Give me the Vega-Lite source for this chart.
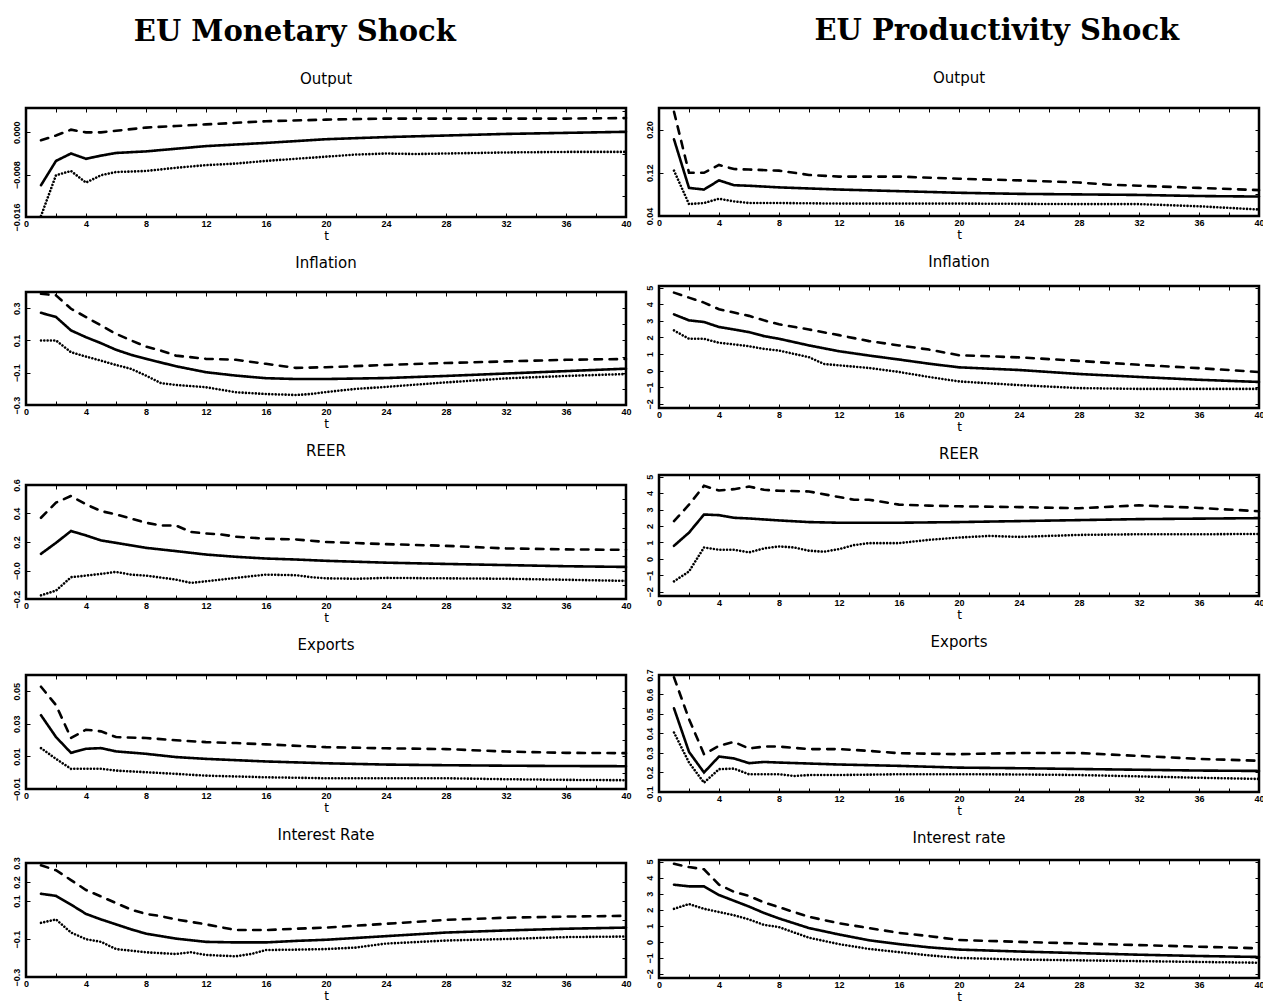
{
"$schema": "https://vega.github.io/schema/vega-lite/v6.json",
"background": "white",
"padding": {"left": 11, "top": 17, "right": 2, "bottom": 0},
"config": {
  "view": {"stroke": "black", "strokeWidth": 2.5},
  "axis": {"domain": false, "grid": false, "tickColor": "black", "tickSize": -4, "tickWidth": 1, "labelColor": "black", "labelFont": "Liberation Sans", "labelFontSize": 9, "labelFontWeight": "bold", "labelFlush": false, "labelOverlap": false, "labelBound": false, "titleFont": "DejaVu Sans", "titleFontSize": 12, "titleFontWeight": "normal", "titleColor": "black"},
  "title": {"font": "DejaVu Sans", "fontSize": 15, "fontWeight": "normal", "color": "black", "anchor": "middle"},
  "line": {"color": "black", "strokeWidth": 2.6, "strokeCap": "round", "clip": true}
},
"hconcat": [
{
  "title": {"text": "EU Monetary Shock", "font": "DejaVu Serif", "fontSize": 29, "fontWeight": "bold", "offset": 23, "dx": -27},
  "spacing": 11,
  "vconcat": [
  {
    "title": {"text": "Output", "offset": 21},
    "width": 600, "height": 109,
    "data": {"values": [
      {"t":1,"s":"hi","v":-0.0015},{"t":2,"s":"hi","v":-0.0006},{"t":3,"s":"hi","v":0.0005},{"t":4,"s":"hi","v":0.0},{"t":5,"s":"hi","v":0.0},{"t":6,"s":"hi","v":0.0003},{"t":8,"s":"hi","v":0.0009},{"t":10,"s":"hi","v":0.0012},{"t":12,"s":"hi","v":0.0015},{"t":14,"s":"hi","v":0.0018},{"t":16,"s":"hi","v":0.0021},{"t":20,"s":"hi","v":0.0024},{"t":24,"s":"hi","v":0.0026},{"t":28,"s":"hi","v":0.0026},{"t":32,"s":"hi","v":0.0026},{"t":36,"s":"hi","v":0.0026},{"t":40,"s":"hi","v":0.0027},
      {"t":1,"s":"med","v":-0.0100},{"t":2,"s":"med","v":-0.0054},{"t":3,"s":"med","v":-0.0040},{"t":4,"s":"med","v":-0.0050},{"t":5,"s":"med","v":-0.0044},{"t":6,"s":"med","v":-0.0039},{"t":8,"s":"med","v":-0.0036},{"t":10,"s":"med","v":-0.0031},{"t":12,"s":"med","v":-0.0026},{"t":14,"s":"med","v":-0.0023},{"t":16,"s":"med","v":-0.0020},{"t":20,"s":"med","v":-0.0013},{"t":24,"s":"med","v":-0.0009},{"t":28,"s":"med","v":-0.0006},{"t":32,"s":"med","v":-0.0003},{"t":36,"s":"med","v":-0.0001},{"t":40,"s":"med","v":0.0001},
      {"t":1,"s":"lo","v":-0.0158},{"t":2,"s":"lo","v":-0.0081},{"t":3,"s":"lo","v":-0.0073},{"t":4,"s":"lo","v":-0.0095},{"t":5,"s":"lo","v":-0.0081},{"t":6,"s":"lo","v":-0.0075},{"t":8,"s":"lo","v":-0.0073},{"t":10,"s":"lo","v":-0.0067},{"t":12,"s":"lo","v":-0.0062},{"t":14,"s":"lo","v":-0.0059},{"t":16,"s":"lo","v":-0.0054},{"t":20,"s":"lo","v":-0.0046},{"t":22,"s":"lo","v":-0.0042},{"t":24,"s":"lo","v":-0.0040},{"t":26,"s":"lo","v":-0.0041},{"t":28,"s":"lo","v":-0.0040},{"t":32,"s":"lo","v":-0.0038},{"t":36,"s":"lo","v":-0.0037},{"t":40,"s":"lo","v":-0.0037}
    ]},
    "layer": [
      {"mark": {"type": "line"},
       "encoding": {
         "x": {"field": "t", "type": "quantitative", "scale": {"domain": [0, 40], "nice": false}, "axis": {"values": [0,2,4,6,8,10,12,14,16,18,20,22,24,26,28,30,32,34,36,38,40], "labelExpr": "datum.value % 4 == 0 ? datum.label : ''", "title": "t", "labelPadding": 6, "titlePadding": 2}},
         "y": {"field": "v", "type": "quantitative", "scale": {"domain": [-0.016, 0.0046], "nice": false, "zero": false}, "axis": {"values": [-0.016, -0.008, 0], "format": ".3f", "title": null, "labelAngle": 270, "labelAlign": "center", "labelBaseline": "bottom", "labelPadding": 8.5}},
         "strokeDash": {"field": "s", "type": "nominal", "scale": {"domain": ["hi", "med", "lo"], "range": [[7.5, 7.5], [1, 0], [0.01, 3.3]]}, "legend": null}
       }},
      {"mark": {"type": "point", "opacity": 0},
       "encoding": {
         "x": {"field": "t", "type": "quantitative", "scale": {"domain": [0, 40], "nice": false}, "axis": {"orient": "top", "values": [0,2,4,6,8,10,12,14,16,18,20,22,24,26,28,30,32,34,36,38,40], "labels": false, "title": null}},
         "y": {"field": "v", "type": "quantitative", "scale": {"domain": [-0.016, 0.0046], "nice": false, "zero": false}, "axis": {"orient": "right", "values": [-0.016, -0.012, -0.008, -0.004, 0, 0.004], "labels": false, "title": null}}
       }}
    ],
    "resolve": {"axis": {"x": "independent", "y": "independent"}}
  },
  {
    "title": {"text": "Inflation", "offset": 18},
    "width": 600, "height": 113,
    "data": {"values": [
      {"t":1,"s":"hi","v":0.389},{"t":2,"s":"hi","v":0.379},{"t":3,"s":"hi","v":0.296},{"t":4,"s":"hi","v":0.245},{"t":5,"s":"hi","v":0.193},{"t":6,"s":"hi","v":0.141},{"t":7,"s":"hi","v":0.10},{"t":8,"s":"hi","v":0.062},{"t":9,"s":"hi","v":0.037},{"t":10,"s":"hi","v":0.006},{"t":12,"s":"hi","v":-0.014},{"t":14,"s":"hi","v":-0.02},{"t":16,"s":"hi","v":-0.045},{"t":18,"s":"hi","v":-0.07},{"t":20,"s":"hi","v":-0.066},{"t":24,"s":"hi","v":-0.052},{"t":28,"s":"hi","v":-0.04},{"t":32,"s":"hi","v":-0.03},{"t":36,"s":"hi","v":-0.02},{"t":40,"s":"hi","v":-0.015},
      {"t":1,"s":"med","v":0.271},{"t":2,"s":"med","v":0.245},{"t":3,"s":"med","v":0.162},{"t":4,"s":"med","v":0.12},{"t":5,"s":"med","v":0.083},{"t":6,"s":"med","v":0.042},{"t":7,"s":"med","v":0.011},{"t":8,"s":"med","v":-0.014},{"t":10,"s":"med","v":-0.06},{"t":12,"s":"med","v":-0.097},{"t":14,"s":"med","v":-0.118},{"t":16,"s":"med","v":-0.134},{"t":18,"s":"med","v":-0.139},{"t":20,"s":"med","v":-0.139},{"t":24,"s":"med","v":-0.133},{"t":28,"s":"med","v":-0.12},{"t":32,"s":"med","v":-0.105},{"t":36,"s":"med","v":-0.09},{"t":40,"s":"med","v":-0.075},
      {"t":1,"s":"lo","v":0.1},{"t":2,"s":"lo","v":0.1},{"t":3,"s":"lo","v":0.027},{"t":4,"s":"lo","v":0.0},{"t":5,"s":"lo","v":-0.025},{"t":6,"s":"lo","v":-0.052},{"t":7,"s":"lo","v":-0.076},{"t":8,"s":"lo","v":-0.118},{"t":9,"s":"lo","v":-0.165},{"t":10,"s":"lo","v":-0.176},{"t":12,"s":"lo","v":-0.19},{"t":14,"s":"lo","v":-0.221},{"t":16,"s":"lo","v":-0.232},{"t":18,"s":"lo","v":-0.238},{"t":19,"s":"lo","v":-0.232},{"t":20,"s":"lo","v":-0.22},{"t":22,"s":"lo","v":-0.2},{"t":24,"s":"lo","v":-0.188},{"t":28,"s":"lo","v":-0.16},{"t":32,"s":"lo","v":-0.135},{"t":36,"s":"lo","v":-0.12},{"t":40,"s":"lo","v":-0.108}
    ]},
    "layer": [
      {"mark": {"type": "line"},
       "encoding": {
         "x": {"field": "t", "type": "quantitative", "scale": {"domain": [0, 40], "nice": false}, "axis": {"values": [0,2,4,6,8,10,12,14,16,18,20,22,24,26,28,30,32,34,36,38,40], "labelExpr": "datum.value % 4 == 0 ? datum.label : ''", "title": "t", "labelPadding": 6, "titlePadding": 2}},
         "y": {"field": "v", "type": "quantitative", "scale": {"domain": [-0.3, 0.4], "nice": false, "zero": false}, "axis": {"values": [-0.3, -0.1, 0.1, 0.3], "format": ".1f", "title": null, "labelAngle": 270, "labelAlign": "center", "labelBaseline": "bottom", "labelPadding": 8.5}},
         "strokeDash": {"field": "s", "type": "nominal", "scale": {"domain": ["hi", "med", "lo"], "range": [[7.5, 7.5], [1, 0], [0.01, 3.3]]}, "legend": null}
       }},
      {"mark": {"type": "point", "opacity": 0},
       "encoding": {
         "x": {"field": "t", "type": "quantitative", "scale": {"domain": [0, 40], "nice": false}, "axis": {"orient": "top", "values": [0,2,4,6,8,10,12,14,16,18,20,22,24,26,28,30,32,34,36,38,40], "labels": false, "title": null}},
         "y": {"field": "v", "type": "quantitative", "scale": {"domain": [-0.3, 0.4], "nice": false, "zero": false}, "axis": {"orient": "right", "values": [-0.3, -0.2, -0.1, 0, 0.1, 0.2, 0.3, 0.4], "labels": false, "title": null}}
       }}
    ],
    "resolve": {"axis": {"x": "independent", "y": "independent"}}
  },
  {
    "title": {"text": "REER", "offset": 20},
    "width": 600, "height": 114,
    "data": {"values": [
      {"t":1,"s":"hi","v":0.37},{"t":2,"s":"hi","v":0.476},{"t":3,"s":"hi","v":0.523},{"t":4,"s":"hi","v":0.464},{"t":5,"s":"hi","v":0.417},{"t":6,"s":"hi","v":0.394},{"t":8,"s":"hi","v":0.335},{"t":9,"s":"hi","v":0.316},{"t":10,"s":"hi","v":0.316},{"t":11,"s":"hi","v":0.27},{"t":12,"s":"hi","v":0.26},{"t":13,"s":"hi","v":0.253},{"t":14,"s":"hi","v":0.237},{"t":16,"s":"hi","v":0.223},{"t":18,"s":"hi","v":0.218},{"t":20,"s":"hi","v":0.2},{"t":24,"s":"hi","v":0.185},{"t":28,"s":"hi","v":0.173},{"t":32,"s":"hi","v":0.155},{"t":36,"s":"hi","v":0.148},{"t":40,"s":"hi","v":0.145},
      {"t":1,"s":"med","v":0.117},{"t":2,"s":"med","v":0.194},{"t":3,"s":"med","v":0.277},{"t":4,"s":"med","v":0.246},{"t":5,"s":"med","v":0.211},{"t":6,"s":"med","v":0.194},{"t":8,"s":"med","v":0.159},{"t":10,"s":"med","v":0.136},{"t":12,"s":"med","v":0.112},{"t":14,"s":"med","v":0.096},{"t":16,"s":"med","v":0.084},{"t":18,"s":"med","v":0.077},{"t":20,"s":"med","v":0.068},{"t":24,"s":"med","v":0.055},{"t":28,"s":"med","v":0.046},{"t":32,"s":"med","v":0.038},{"t":36,"s":"med","v":0.03},{"t":40,"s":"med","v":0.025},
      {"t":1,"s":"lo","v":-0.174},{"t":2,"s":"lo","v":-0.141},{"t":3,"s":"lo","v":-0.047},{"t":4,"s":"lo","v":-0.036},{"t":5,"s":"lo","v":-0.024},{"t":6,"s":"lo","v":-0.01},{"t":7,"s":"lo","v":-0.029},{"t":8,"s":"lo","v":-0.036},{"t":10,"s":"lo","v":-0.064},{"t":11,"s":"lo","v":-0.087},{"t":12,"s":"lo","v":-0.076},{"t":14,"s":"lo","v":-0.052},{"t":16,"s":"lo","v":-0.029},{"t":18,"s":"lo","v":-0.033},{"t":19,"s":"lo","v":-0.047},{"t":20,"s":"lo","v":-0.055},{"t":22,"s":"lo","v":-0.058},{"t":24,"s":"lo","v":-0.052},{"t":28,"s":"lo","v":-0.055},{"t":32,"s":"lo","v":-0.058},{"t":36,"s":"lo","v":-0.065},{"t":40,"s":"lo","v":-0.073}
    ]},
    "layer": [
      {"mark": {"type": "line"},
       "encoding": {
         "x": {"field": "t", "type": "quantitative", "scale": {"domain": [0, 40], "nice": false}, "axis": {"values": [0,2,4,6,8,10,12,14,16,18,20,22,24,26,28,30,32,34,36,38,40], "labelExpr": "datum.value % 4 == 0 ? datum.label : ''", "title": "t", "labelPadding": 6, "titlePadding": 2}},
         "y": {"field": "v", "type": "quantitative", "scale": {"domain": [-0.2, 0.6], "nice": false, "zero": false}, "axis": {"values": [-0.2, 0, 0.2, 0.4, 0.6], "labelExpr": "datum.value == 0 ? '\u22120.0' : format(datum.value, '.1f')", "title": null, "labelAngle": 270, "labelAlign": "center", "labelBaseline": "bottom", "labelPadding": 8.5}},
         "strokeDash": {"field": "s", "type": "nominal", "scale": {"domain": ["hi", "med", "lo"], "range": [[7.5, 7.5], [1, 0], [0.01, 3.3]]}, "legend": null}
       }},
      {"mark": {"type": "point", "opacity": 0},
       "encoding": {
         "x": {"field": "t", "type": "quantitative", "scale": {"domain": [0, 40], "nice": false}, "axis": {"orient": "top", "values": [0,2,4,6,8,10,12,14,16,18,20,22,24,26,28,30,32,34,36,38,40], "labels": false, "title": null}},
         "y": {"field": "v", "type": "quantitative", "scale": {"domain": [-0.2, 0.6], "nice": false, "zero": false}, "axis": {"orient": "right", "values": [-0.2, -0.1, 0, 0.1, 0.2, 0.3, 0.4, 0.5, 0.6], "labels": false, "title": null}}
       }}
    ],
    "resolve": {"axis": {"x": "independent", "y": "independent"}}
  },
  {
    "title": {"text": "Exports", "offset": 22},
    "width": 600, "height": 114,
    "data": {"values": [
      {"t":1,"s":"hi","v":0.0528},{"t":2,"s":"hi","v":0.0415},{"t":3,"s":"hi","v":0.0213},{"t":4,"s":"hi","v":0.0264},{"t":5,"s":"hi","v":0.0254},{"t":6,"s":"hi","v":0.0219},{"t":8,"s":"hi","v":0.0213},{"t":10,"s":"hi","v":0.0199},{"t":12,"s":"hi","v":0.0188},{"t":14,"s":"hi","v":0.0182},{"t":16,"s":"hi","v":0.0174},{"t":20,"s":"hi","v":0.0157},{"t":24,"s":"hi","v":0.015},{"t":28,"s":"hi","v":0.0145},{"t":32,"s":"hi","v":0.013},{"t":36,"s":"hi","v":0.0122},{"t":40,"s":"hi","v":0.012},
      {"t":1,"s":"med","v":0.0353},{"t":2,"s":"med","v":0.0219},{"t":3,"s":"med","v":0.0122},{"t":4,"s":"med","v":0.0147},{"t":5,"s":"med","v":0.0151},{"t":6,"s":"med","v":0.0131},{"t":8,"s":"med","v":0.0116},{"t":10,"s":"med","v":0.0096},{"t":12,"s":"med","v":0.0085},{"t":16,"s":"med","v":0.0069},{"t":20,"s":"med","v":0.0058},{"t":24,"s":"med","v":0.005},{"t":28,"s":"med","v":0.0046},{"t":32,"s":"med","v":0.0043},{"t":36,"s":"med","v":0.0041},{"t":40,"s":"med","v":0.004},
      {"t":1,"s":"lo","v":0.0151},{"t":2,"s":"lo","v":0.0085},{"t":3,"s":"lo","v":0.0024},{"t":4,"s":"lo","v":0.0024},{"t":5,"s":"lo","v":0.0024},{"t":6,"s":"lo","v":0.0013},{"t":8,"s":"lo","v":0.0003},{"t":10,"s":"lo","v":-0.0007},{"t":12,"s":"lo","v":-0.0018},{"t":16,"s":"lo","v":-0.0028},{"t":20,"s":"lo","v":-0.0034},{"t":24,"s":"lo","v":-0.0034},{"t":28,"s":"lo","v":-0.0034},{"t":32,"s":"lo","v":-0.004},{"t":36,"s":"lo","v":-0.0044},{"t":40,"s":"lo","v":-0.0046}
    ]},
    "layer": [
      {"mark": {"type": "line"},
       "encoding": {
         "x": {"field": "t", "type": "quantitative", "scale": {"domain": [0, 40], "nice": false}, "axis": {"values": [0,2,4,6,8,10,12,14,16,18,20,22,24,26,28,30,32,34,36,38,40], "labelExpr": "datum.value % 4 == 0 ? datum.label : ''", "title": "t", "labelPadding": 6, "titlePadding": 2}},
         "y": {"field": "v", "type": "quantitative", "scale": {"domain": [-0.01, 0.06], "nice": false, "zero": false}, "axis": {"values": [-0.01, 0.01, 0.03, 0.05], "format": ".2f", "title": null, "labelAngle": 270, "labelAlign": "center", "labelBaseline": "bottom", "labelPadding": 8.5}},
         "strokeDash": {"field": "s", "type": "nominal", "scale": {"domain": ["hi", "med", "lo"], "range": [[7.5, 7.5], [1, 0], [0.01, 3.3]]}, "legend": null}
       }},
      {"mark": {"type": "point", "opacity": 0},
       "encoding": {
         "x": {"field": "t", "type": "quantitative", "scale": {"domain": [0, 40], "nice": false}, "axis": {"orient": "top", "values": [0,2,4,6,8,10,12,14,16,18,20,22,24,26,28,30,32,34,36,38,40], "labels": false, "title": null}},
         "y": {"field": "v", "type": "quantitative", "scale": {"domain": [-0.01, 0.06], "nice": false, "zero": false}, "axis": {"orient": "right", "values": [-0.01, 0, 0.01, 0.02, 0.03, 0.04, 0.05, 0.06], "labels": false, "title": null}}
       }}
    ],
    "resolve": {"axis": {"x": "independent", "y": "independent"}}
  },
  {
    "title": {"text": "Interest Rate", "offset": 14},
    "width": 600, "height": 114,
    "data": {"values": [
      {"t":1,"s":"hi","v":0.288},{"t":2,"s":"hi","v":0.262},{"t":3,"s":"hi","v":0.21},{"t":4,"s":"hi","v":0.158},{"t":5,"s":"hi","v":0.124},{"t":6,"s":"hi","v":0.089},{"t":7,"s":"hi","v":0.055},{"t":8,"s":"hi","v":0.032},{"t":9,"s":"hi","v":0.02},{"t":10,"s":"hi","v":0.003},{"t":12,"s":"hi","v":-0.023},{"t":14,"s":"hi","v":-0.053},{"t":16,"s":"hi","v":-0.053},{"t":18,"s":"hi","v":-0.046},{"t":20,"s":"hi","v":-0.04},{"t":24,"s":"hi","v":-0.02},{"t":28,"s":"hi","v":0.001},{"t":32,"s":"hi","v":0.012},{"t":36,"s":"hi","v":0.018},{"t":40,"s":"hi","v":0.022},
      {"t":1,"s":"med","v":0.138},{"t":2,"s":"med","v":0.127},{"t":3,"s":"med","v":0.081},{"t":4,"s":"med","v":0.032},{"t":5,"s":"med","v":0.003},{"t":6,"s":"med","v":-0.023},{"t":7,"s":"med","v":-0.049},{"t":8,"s":"med","v":-0.072},{"t":10,"s":"med","v":-0.098},{"t":12,"s":"med","v":-0.115},{"t":14,"s":"med","v":-0.118},{"t":16,"s":"med","v":-0.118},{"t":18,"s":"med","v":-0.11},{"t":20,"s":"med","v":-0.104},{"t":24,"s":"med","v":-0.085},{"t":28,"s":"med","v":-0.066},{"t":32,"s":"med","v":-0.055},{"t":36,"s":"med","v":-0.046},{"t":40,"s":"med","v":-0.04},
      {"t":1,"s":"lo","v":-0.015},{"t":2,"s":"lo","v":0.003},{"t":3,"s":"lo","v":-0.066},{"t":4,"s":"lo","v":-0.101},{"t":5,"s":"lo","v":-0.115},{"t":6,"s":"lo","v":-0.153},{"t":8,"s":"lo","v":-0.17},{"t":10,"s":"lo","v":-0.179},{"t":11,"s":"lo","v":-0.17},{"t":12,"s":"lo","v":-0.184},{"t":14,"s":"lo","v":-0.191},{"t":15,"s":"lo","v":-0.179},{"t":16,"s":"lo","v":-0.158},{"t":18,"s":"lo","v":-0.156},{"t":20,"s":"lo","v":-0.153},{"t":22,"s":"lo","v":-0.145},{"t":24,"s":"lo","v":-0.124},{"t":28,"s":"lo","v":-0.108},{"t":32,"s":"lo","v":-0.1},{"t":36,"s":"lo","v":-0.09},{"t":40,"s":"lo","v":-0.087}
    ]},
    "layer": [
      {"mark": {"type": "line"},
       "encoding": {
         "x": {"field": "t", "type": "quantitative", "scale": {"domain": [0, 40], "nice": false}, "axis": {"values": [0,2,4,6,8,10,12,14,16,18,20,22,24,26,28,30,32,34,36,38,40], "labelExpr": "datum.value % 4 == 0 ? datum.label : ''", "title": "t", "labelPadding": 6, "titlePadding": 2}},
         "y": {"field": "v", "type": "quantitative", "scale": {"domain": [-0.3, 0.3], "nice": false, "zero": false}, "axis": {"values": [-0.3, -0.1, 0.1, 0.2, 0.3], "format": ".1f", "title": null, "labelAngle": 270, "labelAlign": "center", "labelBaseline": "bottom", "labelPadding": 8.5}},
         "strokeDash": {"field": "s", "type": "nominal", "scale": {"domain": ["hi", "med", "lo"], "range": [[7.5, 7.5], [1, 0], [0.01, 3.3]]}, "legend": null}
       }},
      {"mark": {"type": "point", "opacity": 0},
       "encoding": {
         "x": {"field": "t", "type": "quantitative", "scale": {"domain": [0, 40], "nice": false}, "axis": {"orient": "top", "values": [0,2,4,6,8,10,12,14,16,18,20,22,24,26,28,30,32,34,36,38,40], "labels": false, "title": null}},
         "y": {"field": "v", "type": "quantitative", "scale": {"domain": [-0.3, 0.3], "nice": false, "zero": false}, "axis": {"orient": "right", "values": [-0.3, -0.2, -0.1, 0, 0.1, 0.2, 0.3], "labels": false, "title": null}}
       }}
    ],
    "resolve": {"axis": {"x": "independent", "y": "independent"}}
  }
  ]
},
{
  "title": {"text": "EU Productivity Shock", "font": "DejaVu Serif", "fontSize": 29, "fontWeight": "bold", "offset": 23, "dx": 42},
  "spacing": 11,
  "vconcat": [
  {
    "title": {"text": "Output", "offset": 21},
    "width": 600, "height": 108,
    "data": {"values": [
      {"t":1,"s":"hi","v":0.233},{"t":2,"s":"hi","v":0.12},{"t":3,"s":"hi","v":0.12},{"t":4,"s":"hi","v":0.1345},{"t":5,"s":"hi","v":0.127},{"t":6,"s":"hi","v":0.126},{"t":8,"s":"hi","v":0.124},{"t":10,"s":"hi","v":0.116},{"t":12,"s":"hi","v":0.113},{"t":16,"s":"hi","v":0.113},{"t":20,"s":"hi","v":0.109},{"t":24,"s":"hi","v":0.106},{"t":28,"s":"hi","v":0.102},{"t":30,"s":"hi","v":0.098},{"t":32,"s":"hi","v":0.096},{"t":36,"s":"hi","v":0.092},{"t":40,"s":"hi","v":0.088},
      {"t":1,"s":"med","v":0.182},{"t":2,"s":"med","v":0.092},{"t":3,"s":"med","v":0.089},{"t":4,"s":"med","v":0.106},{"t":5,"s":"med","v":0.097},{"t":6,"s":"med","v":0.096},{"t":8,"s":"med","v":0.093},{"t":12,"s":"med","v":0.089},{"t":16,"s":"med","v":0.086},{"t":20,"s":"med","v":0.083},{"t":24,"s":"med","v":0.081},{"t":28,"s":"med","v":0.080},{"t":32,"s":"med","v":0.079},{"t":36,"s":"med","v":0.077},{"t":40,"s":"med","v":0.076},
      {"t":1,"s":"lo","v":0.124},{"t":2,"s":"lo","v":0.062},{"t":3,"s":"lo","v":0.064},{"t":4,"s":"lo","v":0.072},{"t":5,"s":"lo","v":0.067},{"t":6,"s":"lo","v":0.064},{"t":8,"s":"lo","v":0.064},{"t":12,"s":"lo","v":0.063},{"t":20,"s":"lo","v":0.063},{"t":28,"s":"lo","v":0.062},{"t":32,"s":"lo","v":0.062},{"t":36,"s":"lo","v":0.058},{"t":40,"s":"lo","v":0.052}
    ]},
    "layer": [
      {"mark": {"type": "line"},
       "encoding": {
         "x": {"field": "t", "type": "quantitative", "scale": {"domain": [0, 40], "nice": false}, "axis": {"values": [0,2,4,6,8,10,12,14,16,18,20,22,24,26,28,30,32,34,36,38,40], "labelExpr": "datum.value % 4 == 0 ? datum.label : ''", "title": "t", "labelPadding": 6, "titlePadding": 2}},
         "y": {"field": "v", "type": "quantitative", "scale": {"domain": [0.04, 0.24], "nice": false, "zero": false}, "axis": {"values": [0.04, 0.12, 0.2], "format": ".2f", "title": null, "labelAngle": 270, "labelAlign": "center", "labelBaseline": "bottom", "labelPadding": 8.5}},
         "strokeDash": {"field": "s", "type": "nominal", "scale": {"domain": ["hi", "med", "lo"], "range": [[7.5, 7.5], [1, 0], [0.01, 3.3]]}, "legend": null}
       }},
      {"mark": {"type": "point", "opacity": 0},
       "encoding": {
         "x": {"field": "t", "type": "quantitative", "scale": {"domain": [0, 40], "nice": false}, "axis": {"orient": "top", "values": [0,2,4,6,8,10,12,14,16,18,20,22,24,26,28,30,32,34,36,38,40], "labels": false, "title": null}},
         "y": {"field": "v", "type": "quantitative", "scale": {"domain": [0.04, 0.24], "nice": false, "zero": false}, "axis": {"orient": "right", "values": [0.04, 0.08, 0.12, 0.16, 0.2, 0.24], "labels": false, "title": null}}
       }}
    ],
    "resolve": {"axis": {"x": "independent", "y": "independent"}}
  },
  {
    "title": {"text": "Inflation", "offset": 15},
    "width": 600, "height": 122,
    "data": {"values": [
      {"t":1,"s":"hi","v":4.7},{"t":2,"s":"hi","v":4.4},{"t":3,"s":"hi","v":4.1},{"t":4,"s":"hi","v":3.7},{"t":5,"s":"hi","v":3.5},{"t":6,"s":"hi","v":3.3},{"t":7,"s":"hi","v":3.03},{"t":8,"s":"hi","v":2.79},{"t":10,"s":"hi","v":2.48},{"t":12,"s":"hi","v":2.14},{"t":14,"s":"hi","v":1.78},{"t":16,"s":"hi","v":1.52},{"t":18,"s":"hi","v":1.27},{"t":20,"s":"hi","v":0.93},{"t":24,"s":"hi","v":0.8},{"t":28,"s":"hi","v":0.59},{"t":32,"s":"hi","v":0.35},{"t":36,"s":"hi","v":0.15},{"t":40,"s":"hi","v":-0.08},
      {"t":1,"s":"med","v":3.39},{"t":2,"s":"med","v":3.03},{"t":3,"s":"med","v":2.93},{"t":4,"s":"med","v":2.63},{"t":5,"s":"med","v":2.48},{"t":6,"s":"med","v":2.32},{"t":7,"s":"med","v":2.08},{"t":8,"s":"med","v":1.92},{"t":10,"s":"med","v":1.52},{"t":12,"s":"med","v":1.17},{"t":14,"s":"med","v":0.91},{"t":16,"s":"med","v":0.67},{"t":18,"s":"med","v":0.42},{"t":20,"s":"med","v":0.2},{"t":24,"s":"med","v":0.04},{"t":28,"s":"med","v":-0.2},{"t":32,"s":"med","v":-0.38},{"t":36,"s":"med","v":-0.55},{"t":40,"s":"med","v":-0.68},
      {"t":1,"s":"lo","v":2.42},{"t":2,"s":"lo","v":1.92},{"t":3,"s":"lo","v":1.92},{"t":4,"s":"lo","v":1.68},{"t":5,"s":"lo","v":1.58},{"t":6,"s":"lo","v":1.47},{"t":7,"s":"lo","v":1.31},{"t":8,"s":"lo","v":1.21},{"t":10,"s":"lo","v":0.81},{"t":11,"s":"lo","v":0.4},{"t":12,"s":"lo","v":0.32},{"t":14,"s":"lo","v":0.16},{"t":16,"s":"lo","v":-0.08},{"t":18,"s":"lo","v":-0.38},{"t":20,"s":"lo","v":-0.65},{"t":24,"s":"lo","v":-0.87},{"t":28,"s":"lo","v":-1.05},{"t":32,"s":"lo","v":-1.1},{"t":36,"s":"lo","v":-1.1},{"t":40,"s":"lo","v":-1.1}
    ]},
    "layer": [
      {"mark": {"type": "line"},
       "encoding": {
         "x": {"field": "t", "type": "quantitative", "scale": {"domain": [0, 40], "nice": false}, "axis": {"values": [0,2,4,6,8,10,12,14,16,18,20,22,24,26,28,30,32,34,36,38,40], "labelExpr": "datum.value % 4 == 0 ? datum.label : ''", "title": "t", "labelPadding": 6, "titlePadding": 2}},
         "y": {"field": "v", "type": "quantitative", "scale": {"domain": [-2.25, 5.1], "nice": false, "zero": false}, "axis": {"values": [-2, -1, 0, 1, 2, 3, 4, 5], "format": "d", "title": null, "labelAngle": 270, "labelAlign": "center", "labelBaseline": "bottom", "labelPadding": 8.5}},
         "strokeDash": {"field": "s", "type": "nominal", "scale": {"domain": ["hi", "med", "lo"], "range": [[7.5, 7.5], [1, 0], [0.01, 3.3]]}, "legend": null}
       }},
      {"mark": {"type": "point", "opacity": 0},
       "encoding": {
         "x": {"field": "t", "type": "quantitative", "scale": {"domain": [0, 40], "nice": false}, "axis": {"orient": "top", "values": [0,2,4,6,8,10,12,14,16,18,20,22,24,26,28,30,32,34,36,38,40], "labels": false, "title": null}},
         "y": {"field": "v", "type": "quantitative", "scale": {"domain": [-2.25, 5.1], "nice": false, "zero": false}, "axis": {"orient": "right", "values": [-2, -1, 0, 1, 2, 3, 4, 5], "labels": false, "title": null}}
       }}
    ],
    "resolve": {"axis": {"x": "independent", "y": "independent"}}
  },
  {
    "title": {"text": "REER", "offset": 12},
    "width": 600, "height": 121,
    "data": {"values": [
      {"t":1,"s":"hi","v":2.3},{"t":2,"s":"hi","v":3.3},{"t":3,"s":"hi","v":4.44},{"t":4,"s":"hi","v":4.16},{"t":5,"s":"hi","v":4.24},{"t":6,"s":"hi","v":4.4},{"t":7,"s":"hi","v":4.2},{"t":8,"s":"hi","v":4.14},{"t":10,"s":"hi","v":4.1},{"t":12,"s":"hi","v":3.76},{"t":13,"s":"hi","v":3.6},{"t":14,"s":"hi","v":3.6},{"t":16,"s":"hi","v":3.3},{"t":18,"s":"hi","v":3.24},{"t":20,"s":"hi","v":3.2},{"t":24,"s":"hi","v":3.15},{"t":28,"s":"hi","v":3.08},{"t":32,"s":"hi","v":3.26},{"t":36,"s":"hi","v":3.1},{"t":40,"s":"hi","v":2.9},
      {"t":1,"s":"med","v":0.8},{"t":2,"s":"med","v":1.6},{"t":3,"s":"med","v":2.7},{"t":4,"s":"med","v":2.66},{"t":5,"s":"med","v":2.5},{"t":6,"s":"med","v":2.46},{"t":8,"s":"med","v":2.34},{"t":10,"s":"med","v":2.24},{"t":12,"s":"med","v":2.2},{"t":16,"s":"med","v":2.2},{"t":20,"s":"med","v":2.24},{"t":24,"s":"med","v":2.3},{"t":28,"s":"med","v":2.36},{"t":32,"s":"med","v":2.42},{"t":36,"s":"med","v":2.45},{"t":40,"s":"med","v":2.48},
      {"t":1,"s":"lo","v":-1.36},{"t":2,"s":"lo","v":-0.76},{"t":3,"s":"lo","v":0.7},{"t":4,"s":"lo","v":0.56},{"t":5,"s":"lo","v":0.56},{"t":6,"s":"lo","v":0.4},{"t":7,"s":"lo","v":0.64},{"t":8,"s":"lo","v":0.76},{"t":9,"s":"lo","v":0.7},{"t":10,"s":"lo","v":0.5},{"t":11,"s":"lo","v":0.44},{"t":12,"s":"lo","v":0.6},{"t":13,"s":"lo","v":0.84},{"t":14,"s":"lo","v":0.96},{"t":16,"s":"lo","v":0.96},{"t":18,"s":"lo","v":1.16},{"t":20,"s":"lo","v":1.3},{"t":22,"s":"lo","v":1.4},{"t":24,"s":"lo","v":1.34},{"t":28,"s":"lo","v":1.46},{"t":32,"s":"lo","v":1.5},{"t":36,"s":"lo","v":1.5},{"t":40,"s":"lo","v":1.52}
    ]},
    "layer": [
      {"mark": {"type": "line"},
       "encoding": {
         "x": {"field": "t", "type": "quantitative", "scale": {"domain": [0, 40], "nice": false}, "axis": {"values": [0,2,4,6,8,10,12,14,16,18,20,22,24,26,28,30,32,34,36,38,40], "labelExpr": "datum.value % 4 == 0 ? datum.label : ''", "title": "t", "labelPadding": 6, "titlePadding": 2}},
         "y": {"field": "v", "type": "quantitative", "scale": {"domain": [-2.25, 5.1], "nice": false, "zero": false}, "axis": {"values": [-2, -1, 0, 1, 2, 3, 4, 5], "format": "d", "title": null, "labelAngle": 270, "labelAlign": "center", "labelBaseline": "bottom", "labelPadding": 8.5}},
         "strokeDash": {"field": "s", "type": "nominal", "scale": {"domain": ["hi", "med", "lo"], "range": [[7.5, 7.5], [1, 0], [0.01, 3.3]]}, "legend": null}
       }},
      {"mark": {"type": "point", "opacity": 0},
       "encoding": {
         "x": {"field": "t", "type": "quantitative", "scale": {"domain": [0, 40], "nice": false}, "axis": {"orient": "top", "values": [0,2,4,6,8,10,12,14,16,18,20,22,24,26,28,30,32,34,36,38,40], "labels": false, "title": null}},
         "y": {"field": "v", "type": "quantitative", "scale": {"domain": [-2.25, 5.1], "nice": false, "zero": false}, "axis": {"orient": "right", "values": [-2, -1, 0, 1, 2, 3, 4, 5], "labels": false, "title": null}}
       }}
    ],
    "resolve": {"axis": {"x": "independent", "y": "independent"}}
  },
  {
    "title": {"text": "Exports", "offset": 19},
    "width": 600, "height": 117,
    "data": {"values": [
      {"t":1,"s":"hi","v":0.688},{"t":2,"s":"hi","v":0.474},{"t":3,"s":"hi","v":0.294},{"t":4,"s":"hi","v":0.337},{"t":5,"s":"hi","v":0.357},{"t":6,"s":"hi","v":0.323},{"t":7,"s":"hi","v":0.333},{"t":8,"s":"hi","v":0.333},{"t":10,"s":"hi","v":0.32},{"t":12,"s":"hi","v":0.32},{"t":14,"s":"hi","v":0.311},{"t":16,"s":"hi","v":0.299},{"t":20,"s":"hi","v":0.294},{"t":24,"s":"hi","v":0.3},{"t":28,"s":"hi","v":0.3},{"t":32,"s":"hi","v":0.285},{"t":36,"s":"hi","v":0.27},{"t":40,"s":"hi","v":0.26},
      {"t":1,"s":"med","v":0.529},{"t":2,"s":"med","v":0.306},{"t":3,"s":"med","v":0.2},{"t":4,"s":"med","v":0.282},{"t":5,"s":"med","v":0.272},{"t":6,"s":"med","v":0.248},{"t":7,"s":"med","v":0.254},{"t":8,"s":"med","v":0.251},{"t":10,"s":"med","v":0.246},{"t":12,"s":"med","v":0.241},{"t":16,"s":"med","v":0.234},{"t":20,"s":"med","v":0.225},{"t":24,"s":"med","v":0.222},{"t":28,"s":"med","v":0.218},{"t":32,"s":"med","v":0.214},{"t":36,"s":"med","v":0.21},{"t":40,"s":"med","v":0.208},
      {"t":1,"s":"lo","v":0.405},{"t":2,"s":"lo","v":0.251},{"t":3,"s":"lo","v":0.148},{"t":4,"s":"lo","v":0.217},{"t":5,"s":"lo","v":0.22},{"t":6,"s":"lo","v":0.191},{"t":8,"s":"lo","v":0.191},{"t":9,"s":"lo","v":0.182},{"t":10,"s":"lo","v":0.187},{"t":12,"s":"lo","v":0.187},{"t":16,"s":"lo","v":0.191},{"t":20,"s":"lo","v":0.191},{"t":24,"s":"lo","v":0.19},{"t":28,"s":"lo","v":0.187},{"t":32,"s":"lo","v":0.18},{"t":36,"s":"lo","v":0.173},{"t":40,"s":"lo","v":0.167}
    ]},
    "layer": [
      {"mark": {"type": "line"},
       "encoding": {
         "x": {"field": "t", "type": "quantitative", "scale": {"domain": [0, 40], "nice": false}, "axis": {"values": [0,2,4,6,8,10,12,14,16,18,20,22,24,26,28,30,32,34,36,38,40], "labelExpr": "datum.value % 4 == 0 ? datum.label : ''", "title": "t", "labelPadding": 6, "titlePadding": 2}},
         "y": {"field": "v", "type": "quantitative", "scale": {"domain": [0.1, 0.7], "nice": false, "zero": false}, "axis": {"values": [0.1, 0.2, 0.3, 0.4, 0.5, 0.6, 0.7], "format": ".1f", "title": null, "labelAngle": 270, "labelAlign": "center", "labelBaseline": "bottom", "labelPadding": 8.5}},
         "strokeDash": {"field": "s", "type": "nominal", "scale": {"domain": ["hi", "med", "lo"], "range": [[7.5, 7.5], [1, 0], [0.01, 3.3]]}, "legend": null}
       }},
      {"mark": {"type": "point", "opacity": 0},
       "encoding": {
         "x": {"field": "t", "type": "quantitative", "scale": {"domain": [0, 40], "nice": false}, "axis": {"orient": "top", "values": [0,2,4,6,8,10,12,14,16,18,20,22,24,26,28,30,32,34,36,38,40], "labels": false, "title": null}},
         "y": {"field": "v", "type": "quantitative", "scale": {"domain": [0.1, 0.7], "nice": false, "zero": false}, "axis": {"orient": "right", "values": [0.1, 0.2, 0.3, 0.4, 0.5, 0.6, 0.7], "labels": false, "title": null}}
       }}
    ],
    "resolve": {"axis": {"x": "independent", "y": "independent"}}
  },
  {
    "title": {"text": "Interest rate", "offset": 13},
    "width": 600, "height": 118,
    "data": {"values": [
      {"t":1,"s":"hi","v":4.86},{"t":2,"s":"hi","v":4.66},{"t":3,"s":"hi","v":4.52},{"t":4,"s":"hi","v":3.56},{"t":5,"s":"hi","v":3.12},{"t":6,"s":"hi","v":2.86},{"t":7,"s":"hi","v":2.46},{"t":8,"s":"hi","v":2.16},{"t":10,"s":"hi","v":1.56},{"t":12,"s":"hi","v":1.16},{"t":14,"s":"hi","v":0.86},{"t":16,"s":"hi","v":0.56},{"t":18,"s":"hi","v":0.36},{"t":20,"s":"hi","v":0.12},{"t":24,"s":"hi","v":0.0},{"t":28,"s":"hi","v":-0.1},{"t":32,"s":"hi","v":-0.2},{"t":36,"s":"hi","v":-0.3},{"t":40,"s":"hi","v":-0.4},
      {"t":1,"s":"med","v":3.56},{"t":2,"s":"med","v":3.46},{"t":3,"s":"med","v":3.46},{"t":4,"s":"med","v":2.92},{"t":5,"s":"med","v":2.56},{"t":6,"s":"med","v":2.2},{"t":7,"s":"med","v":1.8},{"t":8,"s":"med","v":1.46},{"t":10,"s":"med","v":0.86},{"t":12,"s":"med","v":0.46},{"t":14,"s":"med","v":0.1},{"t":16,"s":"med","v":-0.14},{"t":18,"s":"med","v":-0.34},{"t":20,"s":"med","v":-0.48},{"t":24,"s":"med","v":-0.6},{"t":28,"s":"med","v":-0.7},{"t":32,"s":"med","v":-0.8},{"t":36,"s":"med","v":-0.88},{"t":40,"s":"med","v":-0.94},
      {"t":1,"s":"lo","v":2.06},{"t":2,"s":"lo","v":2.36},{"t":3,"s":"lo","v":2.06},{"t":4,"s":"lo","v":1.86},{"t":5,"s":"lo","v":1.66},{"t":6,"s":"lo","v":1.4},{"t":7,"s":"lo","v":1.06},{"t":8,"s":"lo","v":0.92},{"t":10,"s":"lo","v":0.26},{"t":12,"s":"lo","v":-0.14},{"t":14,"s":"lo","v":-0.44},{"t":16,"s":"lo","v":-0.64},{"t":18,"s":"lo","v":-0.84},{"t":20,"s":"lo","v":-1.0},{"t":24,"s":"lo","v":-1.1},{"t":28,"s":"lo","v":-1.15},{"t":32,"s":"lo","v":-1.2},{"t":36,"s":"lo","v":-1.25},{"t":40,"s":"lo","v":-1.3}
    ]},
    "layer": [
      {"mark": {"type": "line"},
       "encoding": {
         "x": {"field": "t", "type": "quantitative", "scale": {"domain": [0, 40], "nice": false}, "axis": {"values": [0,2,4,6,8,10,12,14,16,18,20,22,24,26,28,30,32,34,36,38,40], "labelExpr": "datum.value % 4 == 0 ? datum.label : ''", "title": "t", "labelPadding": 6, "titlePadding": 2}},
         "y": {"field": "v", "type": "quantitative", "scale": {"domain": [-2.25, 5.1], "nice": false, "zero": false}, "axis": {"values": [-2, -1, 0, 1, 2, 3, 4, 5], "format": "d", "title": null, "labelAngle": 270, "labelAlign": "center", "labelBaseline": "bottom", "labelPadding": 8.5}},
         "strokeDash": {"field": "s", "type": "nominal", "scale": {"domain": ["hi", "med", "lo"], "range": [[7.5, 7.5], [1, 0], [0.01, 3.3]]}, "legend": null}
       }},
      {"mark": {"type": "point", "opacity": 0},
       "encoding": {
         "x": {"field": "t", "type": "quantitative", "scale": {"domain": [0, 40], "nice": false}, "axis": {"orient": "top", "values": [0,2,4,6,8,10,12,14,16,18,20,22,24,26,28,30,32,34,36,38,40], "labels": false, "title": null}},
         "y": {"field": "v", "type": "quantitative", "scale": {"domain": [-2.25, 5.1], "nice": false, "zero": false}, "axis": {"orient": "right", "values": [-2, -1, 0, 1, 2, 3, 4, 5], "labels": false, "title": null}}
       }}
    ],
    "resolve": {"axis": {"x": "independent", "y": "independent"}}
  }
  ]
}
],
"spacing": 11
}
